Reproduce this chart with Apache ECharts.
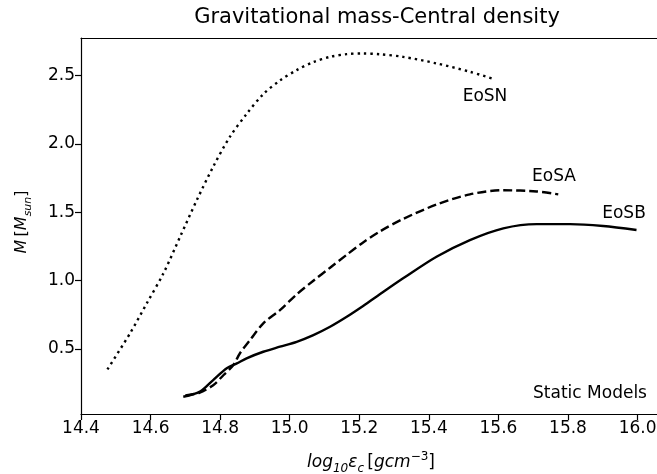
<!DOCTYPE html>
<html>
<head>
<meta charset="utf-8">
<script src="https://cdn.jsdelivr.net/npm/echarts@6/dist/echarts.min.js"></script>
<style>
html,body{margin:0;padding:0;background:#fff;}
#chart{width:657px;height:474px;}
</style>
</head>
<body>
<div id="chart"></div>
<script>
// ---- data ----
const xTicks = [14.4, 14.6, 14.8, 15.0, 15.2, 15.4, 15.6, 15.8, 16.0];
const yTicks = [0.5, 1.0, 1.5, 2.0, 2.5];

const eosN_x = [14.476, 14.541, 14.589, 14.637, 14.685, 14.733, 14.780, 14.828, 14.876, 14.924, 14.972, 15.020, 15.068, 15.116, 15.164, 15.211, 15.259, 15.326, 15.422, 15.518, 15.590];
const eosN_y = [0.351, 0.615, 0.834, 1.054, 1.322, 1.590, 1.834, 2.053, 2.220, 2.365, 2.465, 2.541, 2.600, 2.638, 2.658, 2.663, 2.657, 2.638, 2.590, 2.529, 2.473];

const eosA_x = [14.700, 14.740, 14.780, 14.810, 14.838, 14.857, 14.886, 14.924, 14.972, 15.020, 15.068, 15.116, 15.164, 15.211, 15.259, 15.326, 15.422, 15.518, 15.614, 15.710, 15.772];
const eosA_y = [0.160, 0.180, 0.235, 0.310, 0.383, 0.469, 0.566, 0.688, 0.785, 0.900, 1.000, 1.095, 1.190, 1.280, 1.360, 1.452, 1.557, 1.632, 1.662, 1.653, 1.632];

const eosB_x = [14.694, 14.742, 14.780, 14.819, 14.848, 14.876, 14.924, 14.972, 15.020, 15.068, 15.116, 15.164, 15.211, 15.259, 15.326, 15.422, 15.518, 15.614, 15.710, 15.806, 15.901, 15.997];
const eosB_y = [0.151, 0.188, 0.273, 0.359, 0.395, 0.432, 0.480, 0.517, 0.553, 0.602, 0.663, 0.736, 0.815, 0.900, 1.017, 1.175, 1.297, 1.383, 1.414, 1.414, 1.400, 1.371];

const titleText = 'Gravitational mass-Central density';
const annotations = ['EoSN', 'EoSA', 'EoSB', 'Static Models'];

// ---- chart ----
const FONT = 'DejaVu Sans';
const pairs = (xs, ys) => xs.map((x, i) => [x, ys[i]]);

const chart = echarts.init(document.getElementById('chart'), null, {renderer: 'canvas'});

const lineBase = {type: 'line', showSymbol: false, symbol: 'none', smooth: 0.3, silent: true, animation: false, xAxisIndex: 0, yAxisIndex: 0};

chart.setOption({
  animation: false,
  backgroundColor: '#fff',
  title: {
    text: titleText,
    left: 372, top: 2, textAlign: 'center',
    textStyle: {fontFamily: FONT, fontSize: 21, fontWeight: 'normal', color: '#000'}
  },
  grid: {
    left: 81, top: 38, width: 583, height: 376,
    outerBoundsMode: 'none', containLabel: false,
    show: false
  },
  xAxis: [{
    type: 'value', min: 14.4, max: 16.076,
    axisLine: {show: true, onZero: false, lineStyle: {color: '#000', width: 1.2}},
    axisTick: {show: true, length: 6, customValues: xTicks, lineStyle: {color: '#000', width: 1.2}},
    axisLabel: {customValues: xTicks, formatter: v => v.toFixed(1), fontFamily: FONT, fontSize: 17, color: '#000', margin: 6},
    splitLine: {show: false}
  }, {
    type: 'value', min: 14.4, max: 16.076, position: 'top',
    axisLine: {show: true, onZero: false, lineStyle: {color: '#000', width: 1.2}},
    axisTick: {show: false}, axisLabel: {show: false}, splitLine: {show: false}
  }],
  yAxis: {
    type: 'value', min: 0.0245, max: 2.776,
    axisLine: {show: true, onZero: false, lineStyle: {color: '#000', width: 1.2}},
    axisTick: {show: true, length: 6, customValues: yTicks, lineStyle: {color: '#000', width: 1.2}},
    axisLabel: {customValues: yTicks, formatter: v => v.toFixed(1), fontFamily: FONT, fontSize: 17, color: '#000', margin: 6},
    splitLine: {show: false}
  },
  series: [
    Object.assign({}, lineBase, {name: 'EoSN', data: pairs(eosN_x, eosN_y),
      lineStyle: {color: '#000', width: 2.4, type: [2.4, 4.0], cap: 'butt'}}),
    Object.assign({}, lineBase, {name: 'EoSA', data: pairs(eosA_x, eosA_y),
      lineStyle: {color: '#000', width: 2.4, type: [9, 4], cap: 'butt'}}),
    Object.assign({}, lineBase, {name: 'EoSB', data: pairs(eosB_x, eosB_y),
      lineStyle: {color: '#000', width: 2.4, type: 'solid'}})
  ],
  graphic: [
    {type: 'text', x: 485, y: 97, style: {text: annotations[0], align: 'center', verticalAlign: 'middle', font: '17px "DejaVu Sans"', fill: '#000'}},
    {type: 'text', x: 554, y: 177, style: {text: annotations[1], align: 'center', verticalAlign: 'middle', font: '17px "DejaVu Sans"', fill: '#000'}},
    {type: 'text', x: 624, y: 214, style: {text: annotations[2], align: 'center', verticalAlign: 'middle', font: '17px "DejaVu Sans"', fill: '#000'}},
    {type: 'text', x: 590, y: 394, style: {text: annotations[3], align: 'center', verticalAlign: 'middle', font: '17px "DejaVu Sans"', fill: '#000'}},
    {type: 'text', x: 371, y: 463, style: {
      text: '{i|log}{sub|10}{i|ε}{sub|c} {n|[}{i|gcm}{sup|−3}{n|]}',
      align: 'center', verticalAlign: 'middle',
      rich: {
        i: {fontFamily: FONT, fontStyle: 'italic', fontSize: 17, fill: '#000', lineHeight: 24, verticalAlign: 'middle'},
        n: {fontFamily: FONT, fontSize: 17, fill: '#000', lineHeight: 24, verticalAlign: 'middle'},
        sub: {fontFamily: FONT, fontStyle: 'italic', fontSize: 12, fill: '#000', lineHeight: 24, verticalAlign: 'bottom'},
        sup: {fontFamily: FONT, fontSize: 12, fill: '#000', lineHeight: 24, verticalAlign: 'top'}
      }
    }},
    {type: 'text', x: 22, y: 222, rotation: Math.PI / 2, style: {
      text: '{i|M} {n|[}{i|M}{sub|sun}{n|]}',
      align: 'center', verticalAlign: 'middle',
      rich: {
        i: {fontFamily: FONT, fontStyle: 'italic', fontSize: 16, fill: '#000', lineHeight: 24, verticalAlign: 'middle'},
        n: {fontFamily: FONT, fontSize: 16, fill: '#000', lineHeight: 24, verticalAlign: 'middle'},
        sub: {fontFamily: FONT, fontStyle: 'italic', fontSize: 11, fill: '#000', lineHeight: 24, verticalAlign: 'bottom'}
      }
    }}
  ]
});
</script>
</body>
</html>
